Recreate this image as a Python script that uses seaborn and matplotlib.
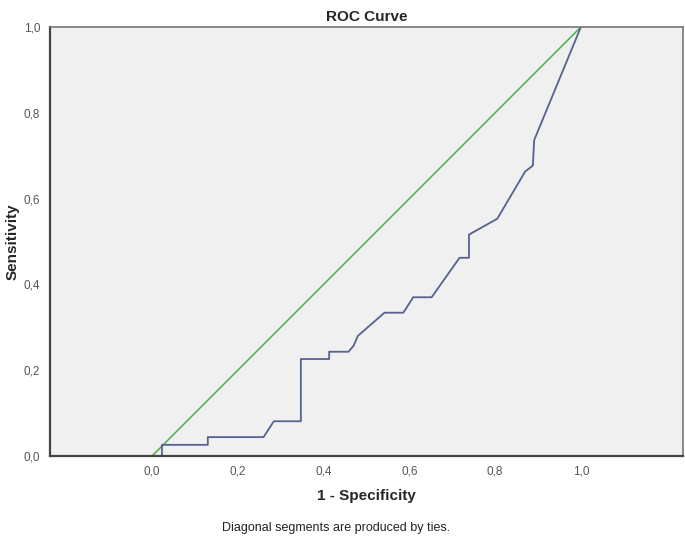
import matplotlib
matplotlib.use("Agg")
import matplotlib.pyplot as plt
import pandas as pd
import seaborn as sns

# ROC points
fpr = [0.0, 0.023, 0.023, 0.130, 0.130, 0.260, 0.284, 0.347, 0.347, 0.413, 0.413,
       0.458, 0.470, 0.480, 0.542, 0.586, 0.609, 0.652, 0.717, 0.739, 0.739,
       0.805, 0.870, 0.888, 0.891, 1.0]
tpr = [0.0, 0.0, 0.026, 0.026, 0.044, 0.044, 0.081, 0.081, 0.226, 0.226, 0.243,
       0.243, 0.257, 0.280, 0.334, 0.334, 0.370, 0.370, 0.462, 0.462, 0.516,
       0.553, 0.663, 0.677, 0.736, 1.0]
ref_x = [0.0, 1.0]
ref_y = [0.0, 1.0]
ticks = [0.0, 0.2, 0.4, 0.6, 0.8, 1.0]
tick_labels = ["0,0", "0,2", "0,4", "0,6", "0,8", "1,0"]

sns.set_style("white")
plt.rcParams["font.family"] = ["Liberation Sans", "DejaVu Sans"]

df_roc = pd.DataFrame({"fpr": fpr, "tpr": tpr})
df_ref = pd.DataFrame({"x": ref_x, "y": ref_y})

fig = plt.figure(figsize=(6.85, 5.42), dpi=100)
ax = fig.add_axes([0.073, 0.1587, 0.924, 0.7915])
ax.set_facecolor("#f0f0f0")

# estimator=None keeps the vertical steps (repeated x values) as drawn
sns.lineplot(data=df_ref, x="x", y="y", ax=ax, color="#45b04a", lw=1.1,
             sort=False, estimator=None)
sns.lineplot(data=df_roc, x="fpr", y="tpr", ax=ax, color="#56628e", lw=1.3,
             sort=False, estimator=None)

ax.set_xlim(-0.238, 1.238)
ax.set_ylim(0, 1)
ax.set_xticks(ticks)
ax.set_xticklabels(tick_labels)
ax.set_yticks(ticks)
ax.set_yticklabels(tick_labels)
ax.tick_params(axis="both", direction="out", length=4, width=1, color="#444444",
               labelsize=8.5, labelcolor="#555555", pad=3)

for side in ["left", "bottom"]:
    ax.spines[side].set_color("#444444")
    ax.spines[side].set_linewidth(1.6)
for side in ["top", "right"]:
    ax.spines[side].set_color("#777777")
    ax.spines[side].set_linewidth(1.2)

ax.set_title("ROC Curve", fontsize=11, fontweight="bold", pad=4)
ax.set_xlabel("1 - Specificity", fontsize=11, fontweight="bold", labelpad=8)
ax.set_ylabel("Sensitivity", fontsize=11, fontweight="bold", labelpad=3)

fig.text(0.49, 0.025, "Diagonal segments are produced by ties.", ha="center",
         va="center", fontsize=9, color="#222222")

fig.savefig("out.png", dpi=100)
plt.close(fig)
